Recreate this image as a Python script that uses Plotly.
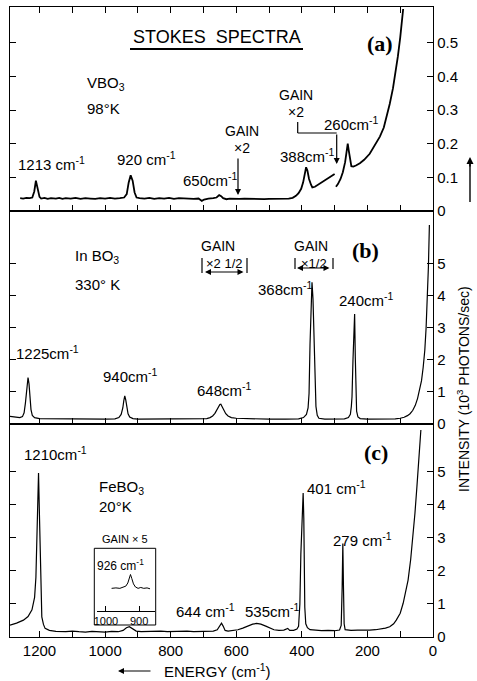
import plotly.graph_objects as go

# ---------------- data ----------------
# Panel (a) VBO3, gain x1 / x2 section
a1_x = [1259,1250,1240,1230,1222,1216,1211,1206,1200,1195,
        1185,1175,1165,1150,1140,1130,1120,1105,1090,1075,
        1060,1045,1030,1015,1000,985,970,955,942,934,
        928,922,916,910,904,895,880,865,850,835,
        820,805,790,775,760,745,730,715,705,698,
        685,670,660,652,646,640,630,620,605,590,
        575,560,545,530,515,500,485,470,455,440,
        428,418,410,402,396,391,387,383,378,372,
        368,360,345,330,315,300]
a1_y = [0.038,0.037,0.039,0.038,0.040,0.058,0.090,0.070,0.042,0.037,
        0.039,0.036,0.038,0.037,0.039,0.036,0.038,0.037,0.039,0.036,
        0.038,0.037,0.036,0.038,0.037,0.039,0.037,0.038,0.040,0.050,
        0.085,0.106,0.090,0.055,0.040,0.038,0.037,0.039,0.036,0.038,
        0.037,0.039,0.036,0.038,0.037,0.038,0.036,0.037,0.030,0.034,
        0.037,0.038,0.040,0.047,0.044,0.038,0.035,0.037,0.036,0.036,
        0.037,0.036,0.035,0.036,0.035,0.036,0.036,0.035,0.036,0.037,
        0.039,0.045,0.053,0.066,0.085,0.112,0.130,0.120,0.095,0.078,
        0.070,0.072,0.081,0.090,0.100,0.110]
# Panel (a) after second gain change
a2_x = [296,290,282,275,268,263,260,257,253,249,
        243,235,223,210,193,178,162,150,142,132,
        122,114,107,100,95,91]
a2_y = [0.072,0.080,0.095,0.115,0.145,0.185,0.200,0.180,0.150,0.133,
        0.132,0.135,0.142,0.152,0.170,0.193,0.221,0.248,0.277,0.318,
        0.365,0.410,0.460,0.515,0.560,0.600]
# Panel (b) InBO3
b_x = [1290,1275,1260,1252,1247,1243,1240,1237,1235,1232,
       1229,1226,1222,1215,1200,1150,1100,1050,1000,970,
       958,951,946,943,940,937,934,930,925,915,
       900,850,800,750,700,690,680,672,665,659,
       654,650,647,643,638,632,625,615,600,560,
       500,450,410,395,386,381,378,375,372,369,
       366,363,360,357,353,348,330,300,270,258,
       252,249,247,244,241,239,237,235,233,229,
       222,200,170,142,115,100,88,78,70,62,
       54,47,41,35,30,25,21,17,14,11]
b_y = [0.24,0.21,0.20,0.23,0.35,0.65,1.00,1.30,1.45,1.25,
       0.80,0.45,0.27,0.20,0.17,0.16,0.15,0.15,0.15,0.16,
       0.20,0.30,0.50,0.72,0.88,0.75,0.50,0.32,0.22,0.17,
       0.15,0.15,0.15,0.15,0.16,0.17,0.20,0.25,0.33,0.45,
       0.55,0.61,0.62,0.55,0.42,0.32,0.25,0.20,0.18,0.16,
       0.15,0.15,0.16,0.20,0.30,0.50,0.95,2.50,3.90,4.42,
       3.90,2.60,1.30,0.55,0.27,0.18,0.15,0.15,0.16,0.20,
       0.30,0.55,0.85,2.00,3.00,3.43,2.10,0.90,0.40,0.22,
       0.17,0.15,0.15,0.15,0.16,0.18,0.21,0.26,0.32,0.42,
       0.58,0.80,1.05,1.35,1.76,2.30,3.00,3.90,4.90,6.20]
# Panel (c) FeBO3
c_x = [1290,1270,1249,1235,1223,1215,1211,1208,1205,1203,
       1200,1198,1195,1193,1188,1183,1170,1150,1120,1100,
       1080,1060,1040,1020,1000,980,960,945,935,926,
       918,905,890,870,850,830,810,790,770,750,
       730,710,690,670,658,650,645,640,634,625,
       610,595,580,565,550,538,525,510,497,485,
       470,455,443,437,425,415,410,406,403,399,
       396,394,393,391,388,383,375,360,340,320,
       300,285,280,277,275,273,271,268,250,230,
       210,193,175,160,145,132,120,112,100,91,
       83,76,68,61,55,49,43,37]
c_y = [0.36,0.42,0.51,0.62,0.82,1.20,1.80,2.84,4.20,4.96,
       3.60,2.33,1.20,0.61,0.38,0.26,0.20,0.17,0.16,0.18,
       0.16,0.15,0.17,0.16,0.15,0.17,0.16,0.20,0.28,0.31,
       0.25,0.18,0.16,0.17,0.16,0.18,0.16,0.17,0.16,0.18,
       0.16,0.17,0.16,0.18,0.22,0.35,0.42,0.33,0.20,0.18,
       0.19,0.22,0.27,0.33,0.39,0.41,0.39,0.33,0.27,0.22,
       0.20,0.21,0.26,0.20,0.20,0.24,0.32,1.00,2.50,3.80,
       4.35,3.60,2.30,0.90,0.40,0.28,0.22,0.20,0.19,0.20,
       0.19,0.21,0.35,1.50,2.83,1.50,0.40,0.22,0.20,0.21,
       0.20,0.21,0.22,0.24,0.27,0.31,0.40,0.51,0.72,1.02,
       1.35,1.72,2.35,3.03,3.75,4.55,5.40,6.26]
# Inset (gain x5) around 926 cm-1
inset_x = [983,970,958,948,940,934,929,926,922,917,911,903,895,886,876,867]
inset_y = [0.50,0.51,0.50,0.52,0.55,0.62,0.74,0.81,0.72,0.60,0.53,0.50,0.52,0.50,0.51,0.49]

# tick values / labels
x_major_vals = list(range(0, 1201, 200))
x_major_text = [str(v) for v in x_major_vals]
x_minor_vals = list(range(100, 1200, 200))
x_all_vals = list(range(0, 1201, 100))
ya_tick_vals = [0, 0.1, 0.2, 0.3, 0.4, 0.5]
ya_tick_text = ["0", "0.1", "0.2", "0.3", "0.4", "0.5"]
ybc_tick_vals = [0, 1, 2, 3, 4, 5]
ybc_tick_text = ["0", "1", "2", "3", "4", "5"]
inset_tick_vals = [1000, 900]
inset_tick_text = ["1000", "900"]

for xs, ys in [(a1_x, a1_y), (a2_x, a2_y), (b_x, b_y), (c_x, c_y), (inset_x, inset_y)]:
    assert len(xs) == len(ys)

# ---------------- layout helpers (page pixel coords) ----------------
W, H = 477, 681
X0, X1 = 10, 433             # plot area in pixels
Y0, Y1 = 7, 637
ML, MR, MT, MB = X0, W - X1, Y0, H - Y1
PW, PH = X1 - X0, Y1 - Y0
FONT = "Liberation Sans, Arial, sans-serif"
SERIF = "Liberation Serif, Times New Roman, serif"


def fx(px):
    return (px - X0) / PW


def fy(py):
    return (Y1 - py) / PH


def T(text, px, py, size=15, xa="center", ya="middle", family=FONT, angle=0):
    return dict(text=text, x=fx(px), y=fy(py), xref="paper", yref="paper",
                showarrow=False, xanchor=xa, yanchor=ya, textangle=angle,
                font=dict(size=size, family=family, color="black"))


def A(hx, hy, tx, ty, both=False, w=1.2):
    return dict(text="", x=fx(hx), y=fy(hy), xref="paper", yref="paper",
                ax=tx - hx, ay=ty - hy, showarrow=True, arrowhead=2,
                startarrowhead=2, arrowsize=1, arrowwidth=w, arrowcolor="black",
                arrowside="end+start" if both else "end", standoff=0, startstandoff=0)


def Ln(x0, y0, x1, y1, w=1.2):
    return dict(type="line", xref="paper", yref="paper", x0=fx(x0), y0=fy(y0),
                x1=fx(x1), y1=fy(y1), line=dict(color="black", width=w))


fig = go.Figure()
line_a = dict(color="black", width=1.8)
line_bc = dict(color="black", width=1.2)
fig.add_trace(go.Scatter(x=a1_x, y=a1_y, xaxis="x", yaxis="y", mode="lines", line=line_a))
fig.add_trace(go.Scatter(x=a2_x, y=a2_y, xaxis="x", yaxis="y", mode="lines", line=line_a))
fig.add_trace(go.Scatter(x=b_x, y=b_y, xaxis="x2", yaxis="y2", mode="lines", line=line_bc))
fig.add_trace(go.Scatter(x=c_x, y=c_y, xaxis="x3", yaxis="y3", mode="lines", line=line_bc))
fig.add_trace(go.Scatter(x=inset_x, y=inset_y, xaxis="x4", yaxis="y4", mode="lines",
                         line=dict(color="black", width=1)))

common = dict(showline=True, linecolor="black", linewidth=1.4, ticks="inside",
              ticklen=6, tickwidth=1.2, tickcolor="black", showgrid=False,
              zeroline=False, tickfont=dict(size=15, family=FONT, color="black"))
XR = [1290, 0]
dom_a = [fy(211), 1]
dom_b = [fy(424), fy(211)]
dom_c = [0, fy(424)]

fig.update_layout(
    width=W, height=H, margin=dict(l=ML, r=MR, t=MT, b=MB, autoexpand=False),
    paper_bgcolor="white", plot_bgcolor="white", showlegend=False,
    xaxis=dict(common, domain=[0, 1], anchor="y", range=XR, tickvals=x_all_vals,
               showticklabels=False, mirror="ticks"),
    xaxis2=dict(common, domain=[0, 1], anchor="y2", range=XR, tickvals=x_all_vals,
                showticklabels=False, mirror=True),
    xaxis3=dict(common, domain=[0, 1], anchor="y3", range=XR, tickvals=x_major_vals,
                ticktext=x_major_text, mirror=True,
                minor=dict(tickvals=x_minor_vals, ticks="inside", ticklen=6,
                           tickwidth=1.2, tickcolor="black", showgrid=False)),
    yaxis=dict(common, domain=dom_a, anchor="x", side="right", range=[0, 0.606],
               tickvals=ya_tick_vals, ticktext=ya_tick_text, mirror="ticks"),
    yaxis2=dict(common, domain=dom_b, anchor="x2", side="right", range=[0, 6.64],
                tickvals=ybc_tick_vals, ticktext=ybc_tick_text, mirror="ticks"),
    yaxis3=dict(common, domain=dom_c, anchor="x3", side="right", range=[0, 6.44],
                tickvals=ybc_tick_vals, ticktext=ybc_tick_text, mirror="ticks"),
    xaxis4=dict(domain=[fx(97), fx(155)], anchor="y4", range=[1027, 852],
                showline=True, linecolor="black", linewidth=1, ticks="inside",
                ticklen=5, tickcolor="black", tickvals=inset_tick_vals,
                ticktext=inset_tick_text, showgrid=False, zeroline=False,
                tickfont=dict(size=11, family=FONT, color="black")),
    yaxis4=dict(domain=[fy(610.7), fy(566)], anchor="x4", range=[0, 1], visible=False),
)

anns = [
    T("STOKES  SPECTRA", 217, 37, size=18),
    T("<b>(a)</b>", 380, 43, size=22, family=SERIF),
    T("<b>(b)</b>", 365, 251, size=22, family=SERIF),
    T("<b>(c)</b>", 376, 453, size=22, family=SERIF),
    # panel a
    T("VBO<sub>3</sub>", 85, 83, xa="left"),
    T("98°K", 85, 109, xa="left"),
    T("1213 cm<sup>-1</sup>", 51, 163),
    T("920 cm<sup>-1</sup>", 146, 158),
    T("650cm<sup>-1</sup>", 210, 179),
    T("GAIN", 242, 131, size=14),
    T("×2", 242, 148, size=14),
    A(238, 195, 238, 157),
    T("GAIN", 296, 95, size=14),
    T("×2", 296, 112, size=14),
    A(336.7, 164, 336.7, 133),
    T("388cm<sup>-1</sup>", 307, 155),
    T("260cm<sup>-1</sup>", 351, 123),
    # panel b
    T("In BO<sub>3</sub>", 73, 256, xa="left"),
    T("330° K", 73, 284, xa="left"),
    T("GAIN", 218, 246, size=14),
    T("×2 1/2", 225, 263, size=13),
    A(205, 272, 245, 272, both=True),
    T("GAIN", 311, 246, size=14),
    T("×1/2", 314, 263, size=13),
    A(297, 268, 331, 268, both=True),
    T("368cm<sup>-1</sup>", 285, 288),
    T("240cm<sup>-1</sup>", 366, 299),
    T("1225cm<sup>-1</sup>", 47, 352),
    T("940cm<sup>-1</sup>", 130, 376),
    T("648cm<sup>-1</sup>", 225, 389),
    # panel c
    T("1210cm<sup>-1</sup>", 55, 454),
    T("FeBO<sub>3</sub>", 97, 487, xa="left"),
    T("20°K", 97, 506, xa="left"),
    T("401 cm<sup>-1</sup>", 336, 488),
    T("279 cm<sup>-1</sup>", 362, 539),
    T("644 cm<sup>-1</sup>", 205, 610),
    T("535cm<sup>-1</sup>", 272, 610),
    T("GAIN × 5", 125, 539, size=11),
    T("926 cm<sup>-1</sup>", 120, 565, size=12),
    # axis titles
    T("INTENSITY (10<sup>3</sup> PHOTONS/sec)", 463, 389, size=14, angle=-90),
    A(470, 157, 470, 168, w=1.4),
    T("ENERGY (cm<sup>-1</sup>)", 217, 670, size=15),
    A(118, 671, 152, 671),
]

shapes = [
    Ln(130, 49, 303, 49, w=2),
    # right-hand intensity arrow shaft
    Ln(470, 162, 470, 202, w=1.4),
    # panel a gain bracket
    Ln(297.7, 122, 297.7, 133),
    Ln(297.7, 133, 336.7, 133),
    # panel b gain bars
    Ln(202, 258, 202, 273),
    Ln(247, 258, 247, 273),
    Ln(295, 258, 295, 269),
    Ln(333, 258, 333, 269),
    # inset box
    dict(type="rect", xref="paper", yref="paper", x0=fx(94.3), x1=fx(155.7),
         y0=fy(625), y1=fy(548.3), line=dict(color="black", width=1)),
]

fig.update_layout(annotations=anns, shapes=shapes)
fig.write_html(
    "out.html",
    config={"displayModeBar": False},
    post_script="document.body.style.margin='0px';document.body.style.overflow='hidden';",
)
